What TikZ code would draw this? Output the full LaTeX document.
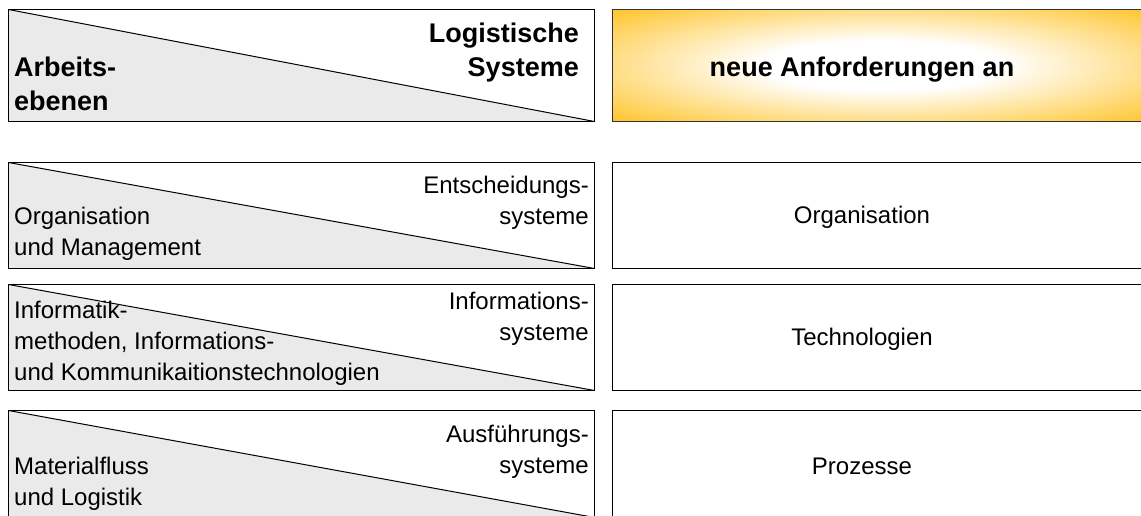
\documentclass[tikz,border=0pt]{standalone}
\usepackage{fontspec}
\setmainfont{Liberation Sans}
\usetikzlibrary{positioning}
\definecolor{ebenegrau}{RGB}{234,234,234}
\definecolor{anforderung}{RGB}{255,190,20}
\pgfdeclareradialshading{glow}{\pgfpoint{0bp}{0bp}}{color(0bp)=(white); color(11bp)=(white); color(38bp)=(anforderung); color(50bp)=(anforderung)}
\tikzset{
    %box of the left column, split by its diagonal
    levelbox/.style={
           rectangle,
           draw=black, line width=1pt,
           minimum width=586pt,
           minimum height=106pt,
           inner sep=0pt,
           anchor=north west,
           path picture={
             \fill[ebenegrau] (path picture bounding box.north west)
               -- (path picture bounding box.south east)
               -- (path picture bounding box.south west) -- cycle;
             \draw[line width=1pt] (path picture bounding box.north west)
               -- (path picture bounding box.south east);
           },
           },
    %box of the right column
    reqbox/.style={
           rectangle,
           draw=black, line width=1pt,
           minimum width=540pt,
           minimum height=106pt,
           inner sep=0pt,
           anchor=north west,
           },
    headbox/.style={
           reqbox,
           minimum height=112pt,
           draw=black!80,
           shading=glow,
           },
    %texts
    headtext/.style={
           inner sep=0pt,
           font=\fontsize{27}{34}\selectfont\bfseries,
           },
    ebenetext/.style={
           inner sep=0pt,
           font=\fontsize{24}{31}\selectfont,
           },
}
\begin{document}
\begin{tikzpicture}[x=1pt,y=-1pt]
\useasboundingbox (0,0) rectangle (1141,515);
\clip (0,0) rectangle (1141,515);

 %boxes
\node[levelbox, minimum height=112pt](kopf) at (8,9){};
\node[headbox](anf) at (612,9){};
\node[levelbox](orga) at (8,162){};
\node[reqbox](orgr) at (612,162){};
\node[levelbox](info) at (8,284){};
\node[reqbox](infor) at (612,284){};
\node[levelbox, minimum height=107pt](mat) at (8,410){};
\node[reqbox, minimum height=107pt](matr) at (612,410){};

 %texts
\node[headtext, align=left, above right=11pt and 6pt of kopf.south west](arbeit){Arbeits-\\ebenen};
\node[headtext, align=right, below left=13.5pt and 16pt of kopf.north east](logsys){Logistische\\Systeme};
\node[headtext, right=250pt of anf.west, anchor=center, yshift=-4pt](neu){neue Anforderungen an};

\node[ebenetext, align=left, above right=8pt and 6pt of orga.south west](orgl){Organisation\\und Management};
\node[ebenetext, align=right, below left=13.5pt and 6pt of orga.north east](ents){Entscheidungs-\\systeme};
\node[ebenetext, right=250pt of orgr.west, anchor=center, yshift=-2pt](organ){Organisation};

\node[ebenetext, align=left, above right=5pt and 6pt of info.south west](infl){Informatik-\\methoden, Informations-\\und Kommunikaitionstechnologien};
\node[ebenetext, align=right, below left=7.5pt and 6pt of info.north east](infs){Informations-\\systeme};
\node[ebenetext, right=250pt of infor.west, anchor=center, yshift=-2pt](tech){Technologien};

\node[ebenetext, align=left, above right=7pt and 6pt of mat.south west](matl){Materialfluss\\und Logistik};
\node[ebenetext, align=right, below left=14.5pt and 6pt of mat.north east](ausf){Ausführungs-\\systeme};
\node[ebenetext, right=250pt of matr.west, anchor=center, yshift=-2pt](proz){Prozesse};

\end{tikzpicture}
\end{document}
